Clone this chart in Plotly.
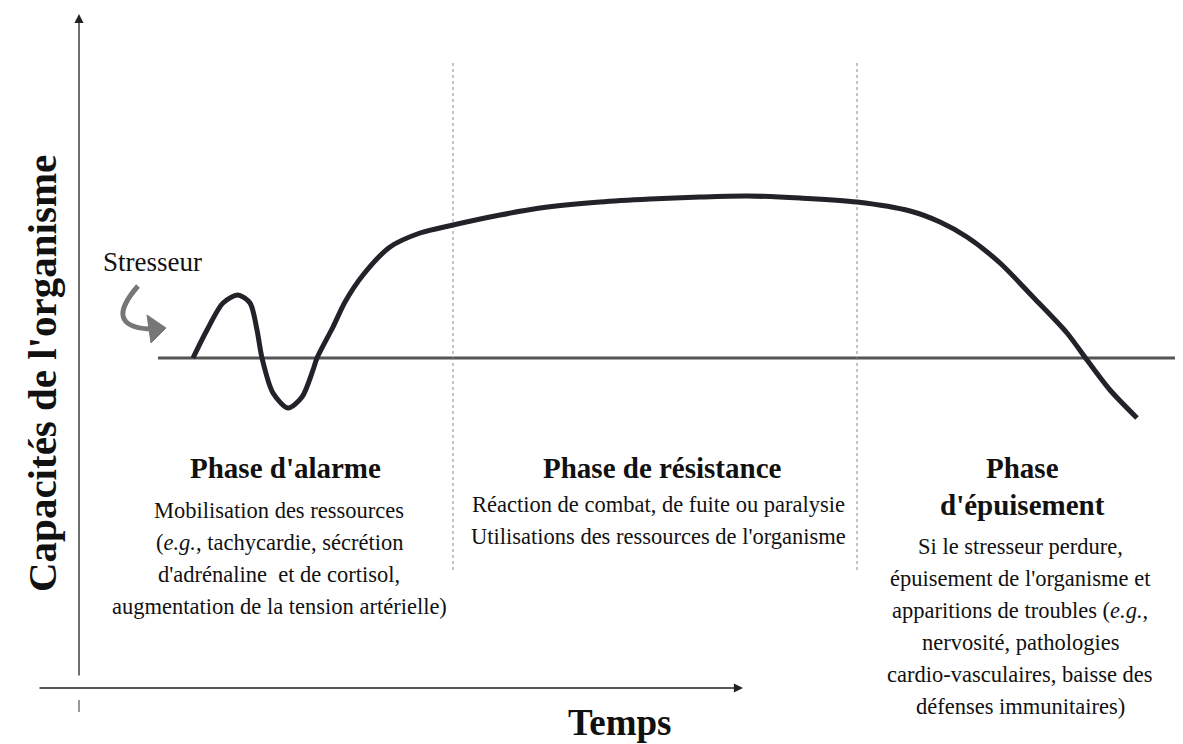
import plotly.graph_objects as go

# ---- Data (time units, capacity relative to baseline) ----
time_pts = [11.4, 12.8, 14.4, 15.9, 17.1, 17.8, 18.3, 19.4, 20.9, 22.3, 23.4, 23.8,
            25.4, 26.6, 28.4, 31.1, 34.1, 37.4, 42.1, 46.1, 52.1, 57.1, 62.1, 66.8,
            72.1, 77.8, 83.1, 86.1, 88.8, 92.1, 95.4, 98.8, 100.8, 103.1, 105.8]
capacity = [0.0, 2.8, 5.5, 6.3, 5.5, 2.8, 0.0, -3.5, -5.0, -3.9, -1.2, 0.0,
            3.1, 5.6, 8.3, 11.1, 12.5, 13.3, 14.3, 15.0, 15.6, 15.9, 16.1, 16.2,
            16.0, 15.6, 14.7, 13.6, 12.1, 9.5, 6.1, 2.5, -0.2, -3.2, -6.0]

phase_bounds = [37.4, 77.8]          # dotted separators
baseline_level = 0.0

phase_titles = ["Phase d'alarme", "Phase de résistance", "Phase", "d'épuisement"]
alarm_lines = ["Mobilisation des ressources",
               "(<i>e.g.</i>, tachycardie, sécrétion",
               "d'adrénaline  et de cortisol,",
               "augmentation de la tension artérielle)"]
resist_lines = ["Réaction de combat, de fuite ou paralysie",
                "Utilisations des ressources de l'organisme"]
exhaust_lines = ["Si le stresseur perdure,",
                 "épuisement de l'organisme et",
                 "apparitions de troubles (<i>e.g.</i>,",
                 "nervosité, pathologies",
                 "cardio-vasculaires, baisse des",
                 "défenses immunitaires)"]

FONT = "Liberation Serif"
X_RANGE = [-7.1, 110.4]
Y_RANGE = [-38.6, 35.0]
BODY = 22.5
TITLE = 29

fig = go.Figure()

# main curve
fig.add_trace(go.Scatter(
    x=time_pts, y=capacity, mode="lines",
    line=dict(color="#222228", width=5, shape="spline", smoothing=0.8),
    hoverinfo="skip", showlegend=False))

shapes = []
# baseline
shapes.append(dict(type="line", xref="x", yref="y", x0=7.9, x1=110.4,
                   y0=baseline_level, y1=baseline_level,
                   line=dict(color="#555555", width=3), layer="below"))
# dotted phase separators
for b in phase_bounds:
    shapes.append(dict(type="line", xref="x", yref="y", x0=b, x1=b, y0=-21.2, y1=29.6,
                       line=dict(color="#888888", width=1, dash="dot"), layer="below"))
# small tick under x axis
shapes.append(dict(type="line", xref="x", yref="y", x0=0, x1=0, y0=-34.2, y1=-35.4,
                   line=dict(color="#333333", width=1)))
# curved stresseur arrow
shapes.append(dict(type="path", xref="x", yref="y",
                   path="M 5.9,7.2 Q 2.4,3.2 7.0,2.9",
                   line=dict(color="#777777", width=5)))
shapes.append(dict(type="path", xref="x", yref="y",
                   path="M 6.8,4.3 L 8.7,3.0 L 7.2,1.5 Z",
                   fillcolor="#777777", line=dict(color="#777777", width=1)))

annotations = []
# axes with arrows
annotations.append(dict(x=0, y=34.4, ax=0, ay=-31.9, xref="x", yref="y", axref="x", ayref="y",
                        text="", showarrow=True, arrowhead=2, arrowsize=1.4, arrowwidth=1.3,
                        arrowcolor="#222222"))
annotations.append(dict(x=66.4, y=-33.0, ax=-4.1, ay=-33.0, xref="x", yref="y", axref="x", ayref="y",
                        text="", showarrow=True, arrowhead=2, arrowsize=1.4, arrowwidth=1.3,
                        arrowcolor="#222222"))


def txt(x, y, s, size, bold=False, angle=0):
    annotations.append(dict(x=x, y=y, xref="x", yref="y", text=(f"<b>{s}</b>" if bold else s),
                            showarrow=False, xanchor="center", yanchor="middle", textangle=angle,
                            font=dict(family=FONT, size=size, color="#111111")))


txt(-3.7, -1.6, "Capacités de l'organisme", 41, bold=True, angle=-90)
txt(54.1, -36.4, "Temps", 37, bold=True)
txt(7.3, 9.6, "Stresseur", 27)

# phase titles
txt(20.6, -11.0, phase_titles[0], TITLE, bold=True)
txt(58.3, -11.0, phase_titles[1], TITLE, bold=True)
txt(94.3, -11.0, phase_titles[2], TITLE, bold=True)
txt(94.3, -14.7, phase_titles[3], TITLE, bold=True)

for i, s in enumerate(alarm_lines):
    txt(20.0, -15.2 - 3.2 * i, s, BODY)
for i, s in enumerate(resist_lines):
    txt(57.9, -14.6 - 3.2 * i, s, BODY)
for i, s in enumerate(exhaust_lines):
    txt(94.1, -18.8 - 3.2 * i, s, BODY)

fig.update_layout(
    width=1175, height=736,
    margin=dict(l=0, r=0, t=0, b=0),
    paper_bgcolor="white", plot_bgcolor="white",
    xaxis=dict(range=X_RANGE, visible=False, fixedrange=True),
    yaxis=dict(range=Y_RANGE, visible=False, fixedrange=True),
    shapes=shapes, annotations=annotations, showlegend=False)

fig.write_html("out.html")
